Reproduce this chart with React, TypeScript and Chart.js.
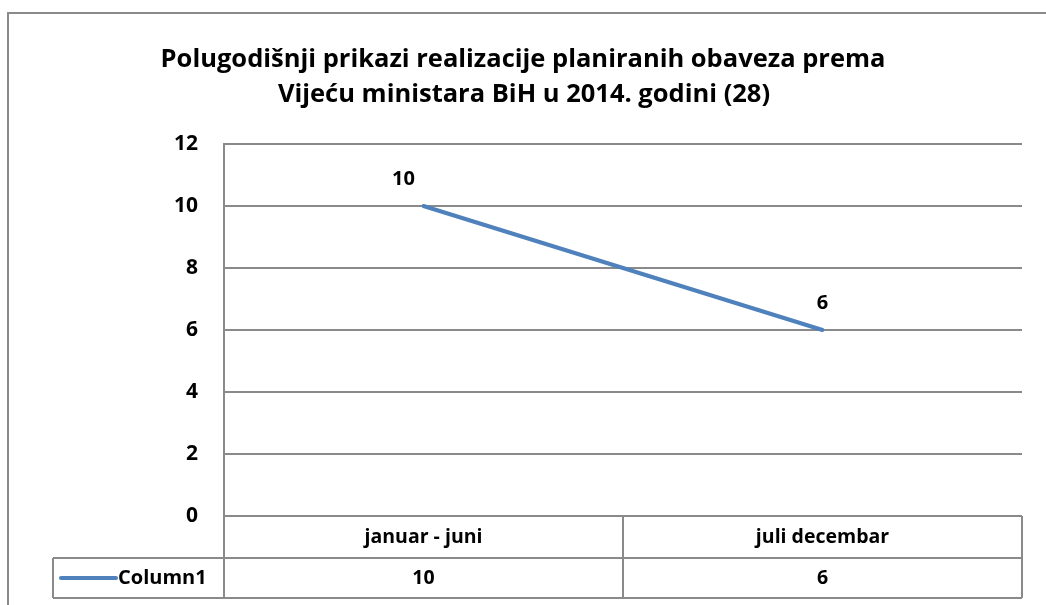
import React, { useEffect, useRef } from "react";
import Chart from "chart.js/auto";

const titleLines = [
  "Polugodišnji prikazi realizacije planiranih obaveza prema",
  "Vijeću ministara BiH u 2014. godini (28)",
];
const categories = ["januar - juni", "juli decembar"];
const seriesName = "Column1";
const values = [10, 6];
const yMin = 0;
const yMax = 12;
const yStep = 2;

const FONT = "'Open Sans'";
const GRID = "#8a8a8a";
const BLUE = "#4F81BD";

export default function App() {
  const ref = useRef<HTMLCanvasElement | null>(null);
  useEffect(() => {
    const canvas = ref.current!;
    const overlay = {
      id: "overlay",
      afterDraw(chart: any) {
        const ctx = chart.ctx as CanvasRenderingContext2D;
        const area = chart.chartArea;
        const x = chart.scales.x;
        const y = chart.scales.y;
        ctx.save();
        // outer border
        ctx.strokeStyle = GRID;
        ctx.lineWidth = 2;
        ctx.beginPath();
        ctx.moveTo(8, 605);
        ctx.lineTo(8, 13);
        ctx.lineTo(1046, 13);
        ctx.stroke();

        // title
        ctx.fillStyle = "#000";
        ctx.textAlign = "center";
        ctx.textBaseline = "alphabetic";
        ctx.font = `bold 25.5px ${FONT}`;
        ctx.fillText(titleLines[0], 523, 67);
        ctx.fillText(titleLines[1], 524, 102);

        // data labels
        const offs = [-20, 0];
        ctx.font = `bold 20px ${FONT}`;
        values.forEach((v, i) => {
          const px = x.getPixelForValue(i) + offs[i];
          const py = y.getPixelForValue(v);
          ctx.fillText(String(v), px, py - 21);
        });

        // data table
        const top = area.bottom;
        const r1 = top + 42;
        const r2 = top + 82;
        const legLeft = 53;
        const mid = (x.getPixelForValue(0) + x.getPixelForValue(1)) / 2;
        ctx.strokeStyle = GRID;
        ctx.lineWidth = 2;
        ctx.beginPath();
        ctx.moveTo(area.left, top);
        ctx.lineTo(area.left, r2);
        ctx.moveTo(mid, top);
        ctx.lineTo(mid, r2);
        ctx.moveTo(area.right, top);
        ctx.lineTo(area.right, r2);
        ctx.moveTo(legLeft, r1);
        ctx.lineTo(area.right, r1);
        ctx.moveTo(legLeft, r2);
        ctx.lineTo(area.right, r2);
        ctx.moveTo(legLeft, r1);
        ctx.lineTo(legLeft, r2);
        ctx.stroke();

        ctx.fillStyle = "#000";
        ctx.textBaseline = "middle";
        ctx.font = `bold 19.5px ${FONT}`;
        categories.forEach((c, i) => {
          ctx.fillText(c, x.getPixelForValue(i), (top + r1) / 2);
        });
        values.forEach((v, i) => {
          ctx.fillText(String(v), x.getPixelForValue(i), (r1 + r2) / 2);
        });
        // legend key
        ctx.strokeStyle = BLUE;
        ctx.lineWidth = 4;
        ctx.lineCap = "round";
        ctx.beginPath();
        ctx.moveTo(61, (r1 + r2) / 2);
        ctx.lineTo(116, (r1 + r2) / 2);
        ctx.stroke();
        ctx.textAlign = "left";
        ctx.font = `bold 20px ${FONT}`;
        ctx.fillText(seriesName, 118, (r1 + r2) / 2);
        ctx.restore();
      },
    };

    const chart = new Chart(canvas, {
      type: "line",
      data: {
        labels: categories,
        datasets: [
          {
            label: seriesName,
            data: values,
            borderColor: BLUE,
            backgroundColor: BLUE,
            borderWidth: 4,
            borderCapStyle: "round",
            pointRadius: 0,
            tension: 0,
          },
        ],
      },
      options: {
        responsive: false,
        animation: false,
        layout: { padding: { top: 144, right: 24, bottom: 89, left: 0 } },
        plugins: {
          legend: { display: false },
          title: { display: false },
          tooltip: { enabled: false },
        },
        scales: {
          x: { display: false, offset: true },
          y: {
            min: yMin,
            max: yMax,
            ticks: {
              stepSize: yStep,
              color: "#000",
              font: { family: "Open Sans", size: 21, weight: "bold" },
              padding: 26,
            },
            grid: { color: GRID, lineWidth: 2, drawTicks: false },
            border: { display: true, color: GRID, width: 2 },
            afterFit: (s: any) => {
              s.width = 224;
            },
          },
        },
      },
      plugins: [overlay],
    });
    return () => chart.destroy();
  }, []);
  return (
    <div style={{ position: "fixed", left: 0, top: 0, width: 1046, height: 605, background: "#fff" }}>
      <canvas ref={ref} width={1046} height={605} style={{ display: "block" }} />
    </div>
  );
}
